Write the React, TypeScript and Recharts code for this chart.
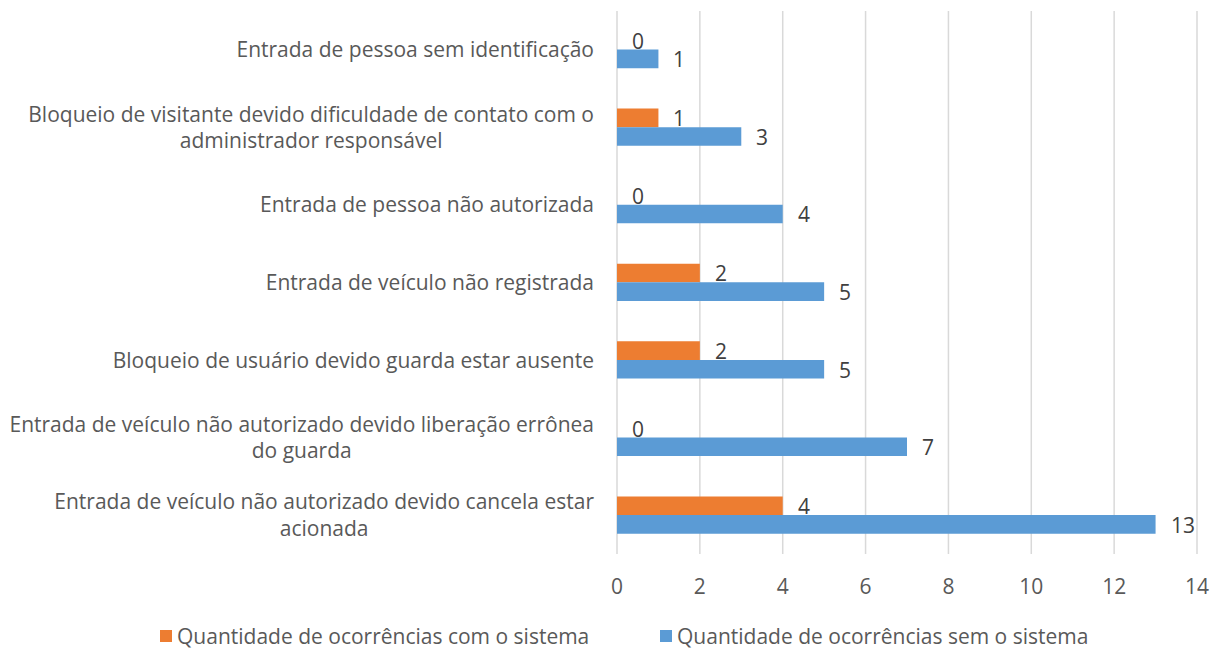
import React from "react";
import { BarChart, Bar, XAxis, YAxis, CartesianGrid, Legend, LabelList } from "recharts";

const categories = [
  "Entrada de pessoa sem identificação",
  "Bloqueio de visitante devido dificuldade de contato com o\nadministrador responsável",
  "Entrada de pessoa não autorizada",
  "Entrada de veículo não registrada",
  "Bloqueio de usuário devido guarda estar ausente",
  "Entrada de veículo não autorizado devido liberação errônea\ndo guarda",
  "Entrada de veículo não autorizado devido cancela estar\nacionada",
];
const comSistema = [0, 1, 0, 2, 2, 0, 4];
const semSistema = [1, 3, 4, 5, 5, 7, 13];
const xTicks = [0, 2, 4, 6, 8, 10, 12, 14];
const seriesNames = ["Quantidade de ocorrências com o sistema", "Quantidade de ocorrências sem o sistema"];
const colors = ["#ED7D31", "#5B9BD5"];

const FONT = "'Open Sans', sans-serif";
const FS = 21;

const data = categories.map((c, i) => ({ cat: c, com: comSistema[i], sem: semSistema[i] }));

let ctx: CanvasRenderingContext2D | null = null;
function measure(t: string): number {
  if (!ctx) {
    const c = document.createElement("canvas");
    ctx = c.getContext("2d");
  }
  if (!ctx) return t.length * FS * 0.5;
  ctx.font = `${FS}px 'Open Sans'`;
  return ctx.measureText(t).width;
}

const YTick = (props: any) => {
  const { x, y, payload } = props;
  const lines: string[] = String(payload.value).split("\n");
  const right = x - 23;
  const lh = 26.5;
  if (lines.length === 1) {
    return (
      <text x={right} y={y} dy="0.355em" textAnchor="end" fill="#595959" fontSize={FS} fontFamily={FONT}>
        {lines[0]}
      </text>
    );
  }
  const maxW = Math.max(...lines.map(measure));
  const cx = right - maxW / 2;
  const start = y - ((lines.length - 1) * lh) / 2;
  return (
    <g>
      {lines.map((l, i) => (
        <text key={i} x={cx} y={start + i * lh} dy="0.355em" textAnchor="middle" fill="#595959" fontSize={FS} fontFamily={FONT}>
          {l}
        </text>
      ))}
    </g>
  );
};

const XTick = (props: any) => {
  const { x, y, payload } = props;
  return (
    <text x={x} y={y + 33} dy="0.355em" textAnchor="middle" fill="#595959" fontSize={FS} fontFamily={FONT}>
      {payload.value}
    </text>
  );
};

const ValueLabel = (props: any) => {
  const { x, y, width, height, value } = props;
  return (
    <text
      x={Number(x) + Math.round(Number(width || 0)) + 15}
      y={Number(y) + Number(height) / 2 + 1}
      dy="0.355em"
      textAnchor="start"
      fill="#404040"
      fontSize={FS}
      fontFamily={FONT}
    >
      {value}
    </text>
  );
};

const LegendContent = () => (
  <div style={{ position: "relative", height: 24, width: 1211, fontFamily: FONT, fontSize: FS, color: "#595959" }}>
    {[160, 660].map((left, i) => (
      <div key={i} style={{ position: "absolute", left, top: 0, height: 24, display: "flex", alignItems: "center", whiteSpace: "nowrap" }}>
        <span style={{ display: "inline-block", width: 12, height: 12, background: colors[i], marginRight: 5 }} />
        <span>{seriesNames[i]}</span>
      </div>
    ))}
  </div>
);

export default function App() {
  return (
    <div style={{ position: "absolute", left: 0, top: 0, background: "#fff" }}>
      <BarChart
        width={1211}
        height={648}
        data={data}
        layout="vertical"
        margin={{ top: 11, right: 14, left: 0, bottom: 0 }}
        barSize={18.6}
        barGap={0}
      >
        <CartesianGrid horizontal={false} vertical={true} stroke="#d9d9d9" strokeWidth={1.5} />
        <XAxis
          type="number"
          domain={[0, 14]}
          ticks={xTicks}
          interval={0}
          axisLine={false}
          tickLine={false}
          tickSize={0}
          tickMargin={0}
          height={70}
          tick={<XTick />}
        />
        <YAxis
          type="category"
          dataKey="cat"
          width={617}
          axisLine={false}
          tickLine={false}
          tickSize={0}
          tickMargin={0}
          interval={0}
          tick={<YTick />}
        />
        <Legend verticalAlign="bottom" align="left" content={<LegendContent />} wrapperStyle={{ left: 0, bottom: 0, height: 24 }} />
        <Bar dataKey="com" name={seriesNames[0]} fill={colors[0]} minPointSize={0.01} isAnimationActive={false}>
          <LabelList dataKey="com" content={<ValueLabel />} />
        </Bar>
        <Bar dataKey="sem" name={seriesNames[1]} fill={colors[1]} minPointSize={0.01} isAnimationActive={false}>
          <LabelList dataKey="sem" content={<ValueLabel />} />
        </Bar>
      </BarChart>
    </div>
  );
}
